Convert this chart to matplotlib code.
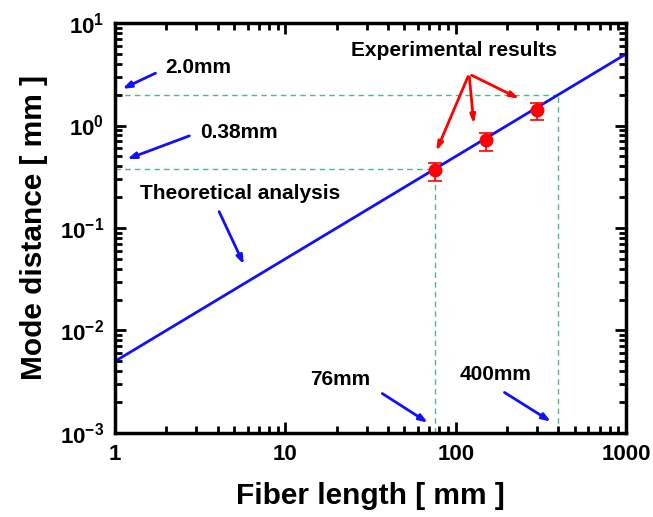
import numpy as np
import matplotlib
matplotlib.use("Agg")
import matplotlib.pyplot as plt

plt.rcParams['font.family'] = ['Liberation Sans', 'DejaVu Sans']
plt.rcParams['font.weight'] = 'bold'
plt.rcParams['mathtext.fontset'] = 'custom'
plt.rcParams['mathtext.rm'] = 'Liberation Sans:bold'
plt.rcParams['mathtext.bf'] = 'Liberation Sans:bold'
plt.rcParams['mathtext.default'] = 'bf'

# theory: mode distance = 0.005 * L
theory_x = [1, 1000]
theory_y = [0.005, 5.0]

# measured points
exp_x = [76, 150, 300]
exp_y = [0.37, 0.72, 1.42]
exp_err_lo = [0.08, 0.15, 0.29]
exp_err_hi = [0.06, 0.12, 0.25]

# guide lines (length, distance)
guide_len = [76, 400]
guide_dist = [0.38, 2.0]

fig = plt.figure(figsize=(6.53, 5.17), dpi=100)
ax = fig.add_axes([0.176, 0.1625, 0.783, 0.793])

ax.set_xscale('log')
ax.set_yscale('log')
ax.set_xlim(1, 1000)
ax.set_ylim(1e-3, 10)

# dashed guides
gcol = '#55b585'
for L, d in zip(guide_len, guide_dist):
    ax.plot([1, L], [d, d], ls=(0, (4, 3)), color=gcol, lw=1.0, zorder=1)
    ax.plot([L, L], [1e-3, d], ls=(0, (4, 3)), color=gcol, lw=1.0, zorder=1)

ax.plot(theory_x, theory_y, color='#1010ff', lw=2, zorder=2)
ax.errorbar(exp_x, exp_y, yerr=[exp_err_lo, exp_err_hi], fmt='o', color='red',
            ms=9, capsize=5, elinewidth=1.2, capthick=1.2, zorder=3)

blue = dict(arrowstyle='-|>,head_length=0.5,head_width=0.18', color='#1010ff', lw=2)
red = dict(arrowstyle='-|>,head_length=0.5,head_width=0.15', color='red', lw=2)
tfs = 15

ax.annotate('', xy=(1.07, 2.22), xytext=(1.79, 3.33), arrowprops=blue)
ax.text(1.97, 3.64, '2.0mm', fontsize=tfs, va='center', ha='left')
ax.annotate('', xy=(1.14, 0.46), xytext=(2.83, 0.81), arrowprops=blue)
ax.text(3.16, 0.845, '0.38mm', fontsize=tfs, va='center', ha='left')
ax.annotate('', xy=(5.8, 0.0417), xytext=(4.02, 0.153), arrowprops=blue)
ax.text(1.40, 0.219, 'Theoretical analysis', fontsize=tfs, va='center', ha='left')
ax.annotate('', xy=(70.7, 0.00122), xytext=(35.9, 0.00251), arrowprops=blue)
ax.text(13.96, 0.00329, '76mm', fontsize=tfs, va='center', ha='left')
ax.annotate('', xy=(373, 0.00125), xytext=(187, 0.00257), arrowprops=blue)
ax.text(106, 0.00368, '400mm', fontsize=tfs, va='center', ha='left')

ax.text(97.8, 5.45, 'Experimental results', fontsize=tfs, va='center', ha='center')
for hx, hy in [(75.6, 0.527), (128, 0.967), (245, 1.77)]:
    ax.annotate('', xy=(hx, hy), xytext=(119.7, 3.18), arrowprops=red)

# ticks
ax.set_xticks([1, 10, 100, 1000])
ax.set_xticklabels(['1', '10', '100', '1000'])
ax.set_yticks([1e-3, 1e-2, 1e-1, 1, 10])
ax.set_yticklabels([r'$10^{-3}$', r'$10^{-2}$', r'$10^{-1}$', r'$10^{0}$', r'$10^{1}$'])
ax.tick_params(which='both', direction='in', top=True, right=True, width=2)
ax.tick_params(which='major', length=8, labelsize=16, pad=8)
ax.tick_params(which='minor', length=5)
for lab in ax.get_xticklabels() + ax.get_yticklabels():
    lab.set_fontweight('bold')
for s in ax.spines.values():
    s.set_linewidth(2.5)

ax.set_xlabel('Fiber length [ mm ]', fontsize=21.5, fontweight='bold', labelpad=12)
ax.set_ylabel('Mode distance [ mm ]', fontsize=21.5, fontweight='bold', labelpad=8)

fig.savefig('out.png', dpi=100)
